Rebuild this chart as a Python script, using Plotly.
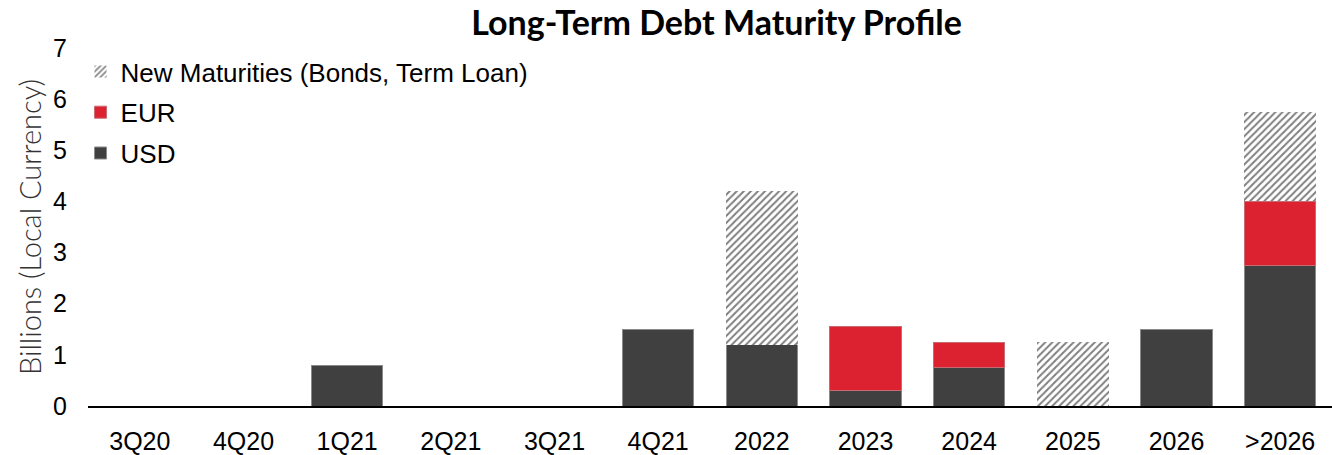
import plotly.graph_objects as go

categories = ["3Q20", "4Q20", "1Q21", "2Q21", "3Q21", "4Q21", "2022", "2023", "2024", "2025", "2026", ">2026"]
usd = [None, None, 0.8, None, None, 1.5, 1.2, 0.3, 0.75, None, 1.5, 2.75]
eur = [None, None, None, None, None, None, None, 1.25, 0.5, None, None, 1.25]
new_maturities = [None, None, None, None, None, None, 3.0, None, None, 1.25, None, 1.75]
y_ticks = [0, 1, 2, 3, 4, 5, 6, 7]

fig = go.Figure()
fig.add_trace(go.Bar(x=categories, y=usd, name="USD", legendgroup="usd", legendrank=3,
                     marker=dict(color="#404040", line=dict(color="#8a8a8a", width=1))))
fig.add_trace(go.Bar(x=categories, y=eur, name="EUR", legendgroup="eur", legendrank=2,
                     marker=dict(color="#dc2230", line=dict(color="#c86a70", width=1))))
fig.add_trace(go.Bar(x=categories, y=new_maturities, name="New Maturities (Bonds, Term Loan)",
                     legendgroup="new", legendrank=1,
                     marker=dict(color="white", line=dict(width=0),
                                 pattern=dict(shape="/", fgcolor="#000000", bgcolor="#ffffff",
                                              size=5, solidity=0.4))))

fig.update_layout(
    barmode="stack",
    bargap=0.31,
    width=1332, height=455,
    margin=dict(l=88, r=0, t=48, b=47),
    plot_bgcolor="white", paper_bgcolor="white",
    title=dict(text="<b>Long-Term Debt Maturity Profile</b>", x=0.538, xanchor="center",
               y=0.95, yanchor="middle",
               font=dict(family="Lato, Arial", size=34, color="#000000")),
    legend=dict(x=-0.006, y=1.0, xanchor="left", yanchor="top", traceorder="grouped",
                font=dict(family="Liberation Sans, Arial", size=26, color="#000000"),
                bgcolor="rgba(0,0,0,0)", itemwidth=30, tracegroupgap=4),
    showlegend=True,
)
fig.update_xaxes(showline=True, linecolor="#000000", linewidth=2, ticks="",
                 ticklabelstandoff=12,
                 tickfont=dict(family="Liberation Sans, Arial", size=25, color="#000000"),
                 showgrid=False)
fig.update_yaxes(range=[0, 7], tickvals=y_ticks, showgrid=False, zeroline=False, showline=False,
                 ticks="", ticklabelstandoff=20,
                 tickfont=dict(family="Liberation Sans, Arial", size=25, color="#000000"),
                 title=dict(text="Billions (Local Currency)", standoff=2,
                            font=dict(family="Lato, Arial", size=29, color="#333333", weight=300)))

fig.write_html("out.html")
